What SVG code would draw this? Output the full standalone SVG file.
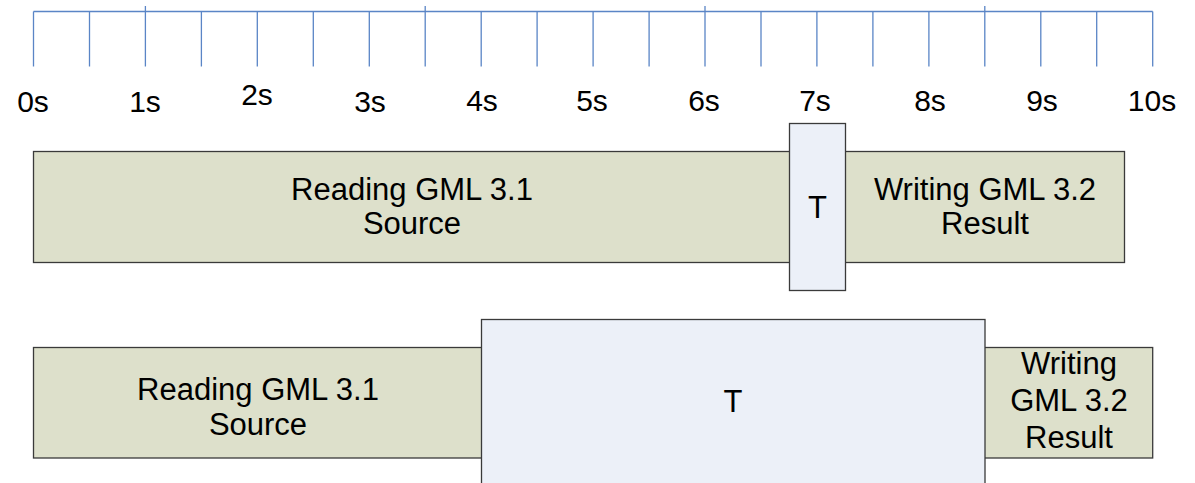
<svg xmlns="http://www.w3.org/2000/svg" width="1195" height="483" viewBox="0 0 1195 483">
<style>
.ax{stroke:#5a85c6;stroke-width:1.3;fill:none}
.lbl{font-family:"Liberation Sans",Arial,sans-serif;font-size:30px;fill:#000;text-anchor:middle}
.txt{font-family:"Liberation Sans",Arial,sans-serif;font-size:31px;fill:#000;text-anchor:middle}
.g{fill:#dde0cb;stroke:#3a3a3a;stroke-width:1.3}
.b{fill:#ecf0f8;stroke:#3a3a3a;stroke-width:1.3}
</style>
<rect width="1195" height="483" fill="#fff"/>
<g id="axis">
<path class="ax" d="M33.5,11.5H1152.7
M33.5,11.5V66.5 M89.5,11.5V66.5 M145.4,6V66.5 M201.4,11.5V66.5 M257.3,11.5V66.5 M313.3,11.5V66.5 M369.3,11.5V66.5 M425.2,6V66.5 M481.2,11.5V66.5 M537.1,11.5V66.5 M593.1,11.5V66.5 M649.1,11.5V66.5 M705,6V66.5 M761,11.5V66.5 M816.9,11.5V66.5 M872.9,11.5V66.5 M928.9,11.5V66.5 M984.8,6V66.5 M1040.8,11.5V66.5 M1096.7,11.5V66.5 M1152.7,11.5V66.5"/>
<text class="lbl" x="33" y="112">0s</text>
<text class="lbl" x="145" y="112">1s</text>
<text class="lbl" x="257" y="105">2s</text>
<text class="lbl" x="370" y="112">3s</text>
<text class="lbl" x="482" y="111">4s</text>
<text class="lbl" x="592" y="111">5s</text>
<text class="lbl" x="704" y="111">6s</text>
<text class="lbl" x="815" y="111">7s</text>
<text class="lbl" x="930" y="111">8s</text>
<text class="lbl" x="1042" y="111">9s</text>
<text class="lbl" x="1152" y="111">10s</text>
</g>
<g id="connectors"></g>
<g id="read1">
<rect class="g" x="33.5" y="151.5" width="760" height="111"/>
<text class="txt" x="412" y="200">Reading GML 3.1</text>
<text class="txt" x="412" y="234">Source</text>
</g>
<g id="write1">
<rect class="g" x="840" y="151.5" width="284.5" height="111"/>
<text class="txt" x="985" y="200">Writing GML 3.2</text>
<text class="txt" x="985" y="234">Result</text>
</g>
<g id="t1">
<rect class="b" x="789.5" y="123.5" width="56" height="167"/>
<text class="txt" x="817.5" y="218">T</text>
</g>
<g id="read2">
<rect class="g" x="33.5" y="347.5" width="452" height="110.5"/>
<text class="txt" x="258" y="400">Reading GML 3.1</text>
<text class="txt" x="258" y="435">Source</text>
</g>
<g id="write2">
<rect class="g" x="980" y="347.5" width="172.7" height="110.5"/>
<text class="txt" x="1069" y="374">Writing</text>
<text class="txt" x="1069" y="411">GML 3.2</text>
<text class="txt" x="1069" y="448">Result</text>
</g>
<g id="t2">
<rect class="b" x="481.5" y="319.5" width="503.5" height="175"/>
<text class="txt" x="733" y="412">T</text>
</g>
</svg>
